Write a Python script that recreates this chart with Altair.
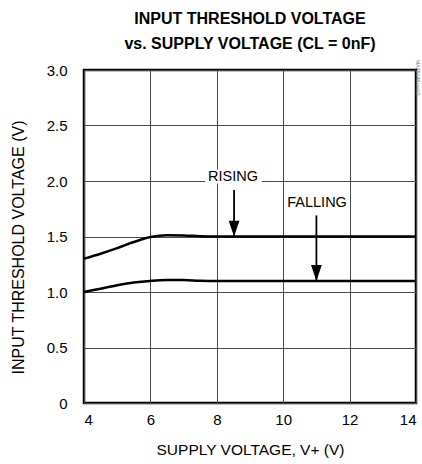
import altair as alt
import pandas as pd

# Data
supply_v = [4, 4.5, 5, 5.5, 6, 6.5, 7, 7.5, 8, 9, 10, 11, 12, 13, 14]
rising = [1.30, 1.345, 1.395, 1.45, 1.495, 1.512, 1.51, 1.503, 1.50, 1.50, 1.50, 1.50, 1.50, 1.50, 1.50]
falling = [1.00, 1.03, 1.06, 1.085, 1.10, 1.108, 1.107, 1.102, 1.10, 1.10, 1.10, 1.10, 1.10, 1.10, 1.10]

x_ticks = [4, 6, 8, 10, 12, 14]
y_ticks = [0, 0.5, 1.0, 1.5, 2.0, 2.5, 3.0]

# Annotations
ann_labels = ["RISING", "FALLING"]
ann_text_x = [8.49, 11.02]
ann_text_y = [2.04, 1.80]
ann_arrow_x = [8.52, 11.0]
ann_arrow_top = [1.92, 1.69]
ann_arrow_tip = [1.50, 1.10]
ann_box_x1 = [7.65, 9.8]
ann_box_x2 = [9.35, 12.25]

rows = []
for x, r, f in zip(supply_v, rising, falling):
    rows.append({"v": x, "th": r, "s": "Rising"})
    rows.append({"v": x, "th": f, "s": "Falling"})
df = pd.DataFrame(rows)

ann = pd.DataFrame({
    "label": ann_labels, "tx": ann_text_x, "ty": ann_text_y,
    "ax": ann_arrow_x, "atop": ann_arrow_top, "atip": ann_arrow_tip,
    "bx1": ann_box_x1, "bx2": ann_box_x2,
})

FONT = "Liberation Sans"

xs = alt.Scale(domain=[4, 14], nice=False, zero=False)
ys = alt.Scale(domain=[0, 3], nice=False, zero=False)

xaxis = alt.Axis(values=x_ticks, title="SUPPLY VOLTAGE, V+ (V)", grid=True, ticks=False,
                 labelPadding=9, domain=False, titleFontSize=15.5,
                 titleX=166, titleY=46, titleBaseline="middle")
yaxis = alt.Axis(values=y_ticks, title="INPUT THRESHOLD VOLTAGE (V)", grid=True, ticks=False,
                 labelPadding=17, domain=False, titleFontSize=16,
                 titleX=-66, titleY=177, titleBaseline="middle",
                 labelExpr="datum.value == 0 ? '0' : format(datum.value, '.1f')")

base = alt.Chart(df)

lines = base.mark_line(color="black", strokeWidth=2.5, interpolate="monotone").encode(
    x=alt.X("v:Q", scale=xs, axis=xaxis),
    y=alt.Y("th:Q", scale=ys, axis=yaxis),
    detail="s:N",
)

abase = alt.Chart(ann)

box2 = abase.transform_filter("datum.label == 'RISING'").mark_rect(color="white", height=14).encode(
    x=alt.X("bx1:Q", scale=xs),
    x2="bx2:Q",
    y=alt.Y("ty:Q", scale=ys),
)

texts = abase.mark_text(fontSize=14.5, font=FONT, color="black").encode(
    x=alt.X("tx:Q", scale=xs),
    y=alt.Y("ty:Q", scale=ys),
    text="label:N",
)

shafts = abase.mark_rule(color="black", strokeWidth=1.8).encode(
    x=alt.X("ax:Q", scale=xs),
    y=alt.Y("atop:Q", scale=ys),
    y2="atip:Q",
)

heads = abase.mark_point(shape="M-0.34,-1L0.34,-1L0,0Z", filled=True, color="black",
                         size=1000, opacity=1).encode(
    x=alt.X("ax:Q", scale=xs),
    y=alt.Y("atip:Q", scale=ys),
)

side = alt.Chart(pd.DataFrame({"t": ["MAX5048 toc02"]})).mark_text(
    fontSize=5, angle=90, color="#777", align="left", baseline="middle"
).encode(x=alt.value(334), y=alt.value(-10), text="t:N")

chart = alt.layer(lines, box2, texts, shafts, heads, side).properties(
    width=332, height=333,
    title=alt.Title(["INPUT THRESHOLD VOLTAGE", "vs. SUPPLY VOLTAGE (CL = 0nF)"],
                    fontSize=16, font=FONT, fontWeight="bold", offset=8,
                    lineHeight=25, anchor="middle", color="black"),
    autosize=alt.AutoSizeParams(type="none"),
    padding={"left": 84, "top": 70, "right": 6, "bottom": 61},
).configure_view(
    stroke="black", strokeWidth=2.5
).configure_axis(
    gridColor="#4a4a4a", gridWidth=1, gridOpacity=1,
    labelFont=FONT, labelFontSize=15, labelColor="black",
    titleFont=FONT, titleFontSize=15, titleFontWeight="normal", titleColor="black",
)

chart.save("out.html", embed_options={"renderer": "svg", "actions": False})
